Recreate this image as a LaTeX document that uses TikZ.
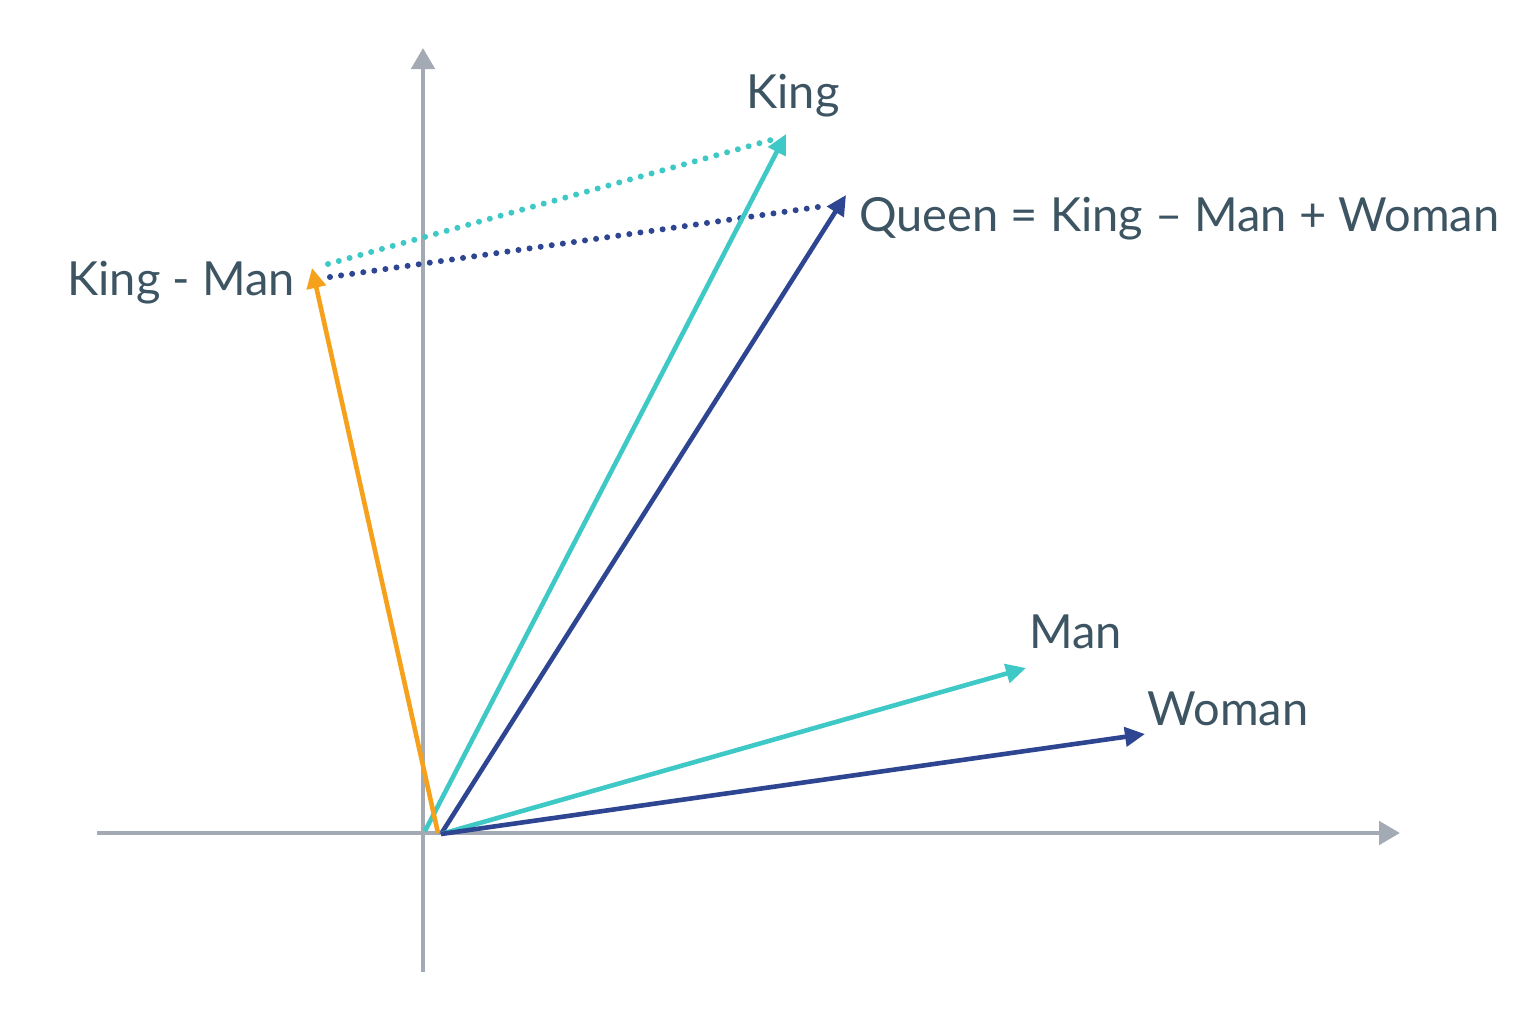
\documentclass[tikz,border=0pt]{standalone}
\usepackage{fontspec}
\setmainfont{Lato}
\usetikzlibrary{arrows.meta}
\definecolor{axisgray}{HTML}{A3AAB4}
\definecolor{labelgray}{HTML}{3D5563}
\definecolor{kingcyan}{HTML}{3EC8C6}
\definecolor{queennavy}{HTML}{2E4591}
\definecolor{diforange}{HTML}{F6A11C}
\tikzset{
  axis/.style={draw=axisgray, line width=2.4pt, -{Triangle[length=10.5pt,width=11.5pt]}},
  vec/.style={line width=2.3pt, -{Triangle[length=10pt,width=9.5pt]}},
  dots/.style={line width=3pt, line cap=round, dash pattern=on 0pt off 5.6pt},
  lbl/.style={text=labelgray, font=\fontsize{23.5}{28}\selectfont, inner sep=0pt},
}
\begin{document}
\begin{tikzpicture}[x=0.5pt,y=-0.5pt]
  \useasboundingbox[fill=white] (0,0) rectangle (1536,1024);

  % axes
  \coordinate (xl) at (97,833);
  \coordinate (xr) at (1400,833);
  \coordinate (yb) at (423,972);
  \coordinate (yt) at (423,48);
  \draw[axis] (xl) -- (xr);
  \draw[axis] (yb) -- (yt);

  % vector ends
  \coordinate (o1) at (425,831);
  \coordinate (o2) at (441,834);
  \coordinate (o3) at (438,833);
  \coordinate (king) at (786,134);
  \coordinate (queen) at (846,195);
  \coordinate (kmm) at (312,268);
  \coordinate (man) at (1026,668);
  \coordinate (woman) at (1145,734);

  % dotted offsets
  \coordinate (dk1) at (328,264);
  \coordinate (dk2) at (771,140);
  \coordinate (dq1) at (330,277);
  \coordinate (dq2) at (818,207);
  \draw[dots, kingcyan] (dk1) -- (dk2);
  \draw[dots, queennavy] (dq1) -- (dq2);

  \draw[vec, kingcyan] (o1) -- (king);
  \draw[vec, queennavy] (o2) -- (queen);
  \draw[vec, kingcyan] (o2) -- (man);
  \draw[vec, queennavy] (o2) -- (woman);
  \draw[vec, diforange] (o3) -- (kmm);

  % labels
  \node[lbl, anchor=base west] (lking) at (746,108) {King};
  \node[lbl, anchor=base west] (lqueen) at (859,231) {Queen = King – Man + Woman};
  \node[lbl, anchor=base east] (lkmm) at (295,295) {King - Man};
  \node[lbl, anchor=base west] (lman) at (1029,648) {Man};
  \node[lbl, anchor=base west] (lwoman) at (1147,725) {Woman};
\end{tikzpicture}
\end{document}
